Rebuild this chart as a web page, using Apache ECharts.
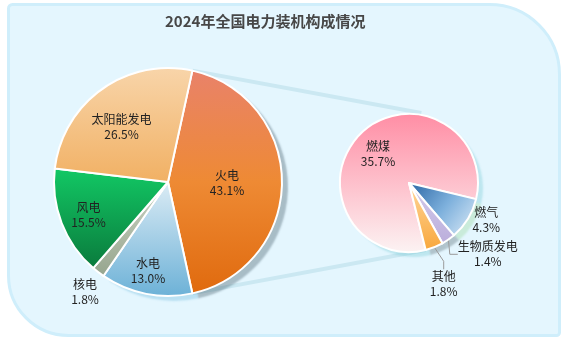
<!DOCTYPE html>
<html>
<head>
<meta charset="utf-8">
<script src="https://cdn.jsdelivr.net/npm/echarts@6/dist/echarts.min.js"></script>
<style>
html,body{margin:0;padding:0;background:#fff;}
#chart{width:569px;height:346px;}
</style>
</head>
<body>
<div id="chart"></div>
<script>
// ---- data ----
const TITLE = '2024年全国电力装机构成情况';
const LEFT_NAMES = ['火电', '水电', '核电', '风电', '太阳能发电'];
const LEFT_VALUES = [43.1, 13.0, 1.8, 15.5, 26.5];
const RIGHT_NAMES = ['燃煤', '燃气', '生物质发电', '其他'];
const RIGHT_VALUES = [35.7, 4.3, 1.4, 1.8];

// ---- styles / layout ----
const FONT = '"Noto Sans CJK SC", "Liberation Sans", sans-serif';
const LEFT_CENTER = [168, 182], LEFT_R = 114;
const RIGHT_CENTER = [409, 183], RIGHT_R = 69;
const RIGHT_START = 284;

const LEFT_COLORS = [
  [[0, '#e9826a'], [0.5, '#ee8a34'], [1, '#e06a0e']],
  [[0, '#dcecf5'], [1, '#6cb1d7']],
  [[0, '#cbd4c4'], [1, '#96a58e']],
  [[0, '#12c965'], [1, '#0a7a3c']],
  [[0, '#f8d5aa'], [1, '#f1b063']]
];
const LEFT_SHADOWS = ['rgba(30,55,70,0.30)', 'rgba(90,175,215,0.30)', 'rgba(0,0,0,0)', 'rgba(0,0,0,0)', 'rgba(0,0,0,0)'];
const LEFT_LABEL_OFFSETS = [[59, 1], [-20, 88.5], [-83, 110], [-79.5, 33], [-46.5, -55.5]];
const LEFT_LABEL_POS = ['inside', 'inside', 'outside', 'inside', 'inside'];

const RIGHT_COLORS = [
  {dir: [0, 0, 0, 1], stops: [[0, '#ff8da4'], [1, '#fcf3f3']]},
  {dir: [0, 0, 1, 1], stops: [[0, '#2a64a3'], [0.5, '#7db0dc'], [1, '#e2eef9']]},
  {dir: [0, 0, 0, 1], stops: [[0, '#d3cbec'], [1, '#bbaedb']]},
  {dir: [0, 0, 0, 1], stops: [[0, '#ffd79c'], [1, '#f8a73c']]}
];
const RIGHT_SHADOWS = ['rgba(100,195,205,0.30)', 'rgba(160,220,165,0.40)', 'rgba(80,100,110,0.35)', 'rgba(80,100,110,0.35)'];
const RIGHT_LABEL_OFFSETS = [[-31, -28.7], [77.3, 37], [78.8, 71.3], [34.7, 101.3]];
const RIGHT_LABEL_POS = ['inside', 'outside', 'outside', 'outside'];
const RIGHT_LABEL_LINE = [false, false, true, true];

function grad(stops, dir) {
  dir = dir || [0, 0, 0, 1];
  return {type: 'linear', x: dir[0], y: dir[1], x2: dir[2], y2: dir[3],
    colorStops: stops.map(s => ({offset: s[0], color: s[1]}))};
}
const fmt = p => p.name + '\n' + p.value.toFixed(1) + '%';

const leftSum = LEFT_VALUES.reduce((a, b) => a + b, 0);
const LEFT_START = LEFT_VALUES[0] / leftSum * 360 / 2;

const labelStyle = {color: '#222', fontSize: 12, lineHeight: 15, fontFamily: FONT, formatter: fmt};

// main (visible) slices
const leftData = LEFT_NAMES.map((n, i) => ({
  name: n, value: LEFT_VALUES[i],
  itemStyle: {color: grad(LEFT_COLORS[i])},
  label: {position: LEFT_LABEL_POS[i]},
  labelLine: {show: false}
}));
const rightData = RIGHT_NAMES.map((n, i) => ({
  name: n, value: RIGHT_VALUES[i],
  itemStyle: {color: grad(RIGHT_COLORS[i].stops, RIGHT_COLORS[i].dir)},
  label: {position: RIGHT_LABEL_POS[i]},
  labelLine: {show: RIGHT_LABEL_LINE[i]}
}));
// shadow layers (same slices, drawn underneath)
const leftShadowData = LEFT_NAMES.map((n, i) => ({
  name: n, value: LEFT_VALUES[i],
  itemStyle: {color: '#e4f6fe', shadowColor: LEFT_SHADOWS[i], shadowBlur: 2, shadowOffsetX: 6, shadowOffsetY: 5}
}));
const rightShadowData = RIGHT_NAMES.map((n, i) => ({
  name: n, value: RIGHT_VALUES[i],
  itemStyle: {color: '#e4f6fe', shadowColor: RIGHT_SHADOWS[i], shadowBlur: 2, shadowOffsetX: 5, shadowOffsetY: 5}
}));

function polar(c, r, deg) {
  const a = deg * Math.PI / 180;
  return [c[0] + r * Math.cos(a), c[1] - r * Math.sin(a)];
}
const lTop = polar(LEFT_CENTER, LEFT_R, LEFT_START);
const lBot = polar(LEFT_CENTER, LEFT_R, -LEFT_START);
const rTop = polar(RIGHT_CENTER, RIGHT_R + 2, 360 - RIGHT_START + 4);
const rBot = polar(RIGHT_CENTER, RIGHT_R, RIGHT_START);

const shadowSeries = (center, r, start, data) => ({
  type: 'pie', center: center, radius: r, startAngle: start, clockwise: true,
  silent: true, z: 1, label: {show: false}, labelLine: {show: false},
  emphasis: {disabled: true}, tooltip: {show: false}, data: data
});

const chart = echarts.init(document.getElementById('chart'), null, {renderer: 'canvas'});
chart.setOption({
  animation: false,
  backgroundColor: '#fff',
  title: {
    text: TITLE, left: 160, top: 9,
    textStyle: {fontSize: 15, fontWeight: 'bold', color: '#474747', fontFamily: FONT}
  },
  graphic: [
    {type: 'rect', z: -10, silent: true,
      shape: {x: 8.5, y: 4.5, width: 551, height: 331, r: [4, 70, 3, 60]},
      style: {fill: '#e4f6fe', stroke: '#cfeefb', lineWidth: 3}},
    {type: 'line', z: -5, silent: true,
      shape: {x1: lTop[0], y1: lTop[1], x2: rTop[0], y2: rTop[1]},
      style: {stroke: '#cbe8f2', lineWidth: 4}},
    {type: 'line', z: -5, silent: true,
      shape: {x1: lBot[0], y1: lBot[1], x2: rBot[0], y2: rBot[1]},
      style: {stroke: '#cbe8f2', lineWidth: 4}}
  ],
  series: [
    shadowSeries(LEFT_CENTER, LEFT_R, LEFT_START, leftShadowData),
    shadowSeries(RIGHT_CENTER, RIGHT_R, RIGHT_START, rightShadowData),
    {
      type: 'pie', center: LEFT_CENTER, radius: LEFT_R, z: 2,
      startAngle: LEFT_START, clockwise: true, avoidLabelOverlap: false,
      itemStyle: {borderColor: '#fff', borderWidth: 2},
      label: labelStyle,
      labelLayout: p => {
        const o = LEFT_LABEL_OFFSETS[p.dataIndex];
        return {x: LEFT_CENTER[0] + o[0], y: LEFT_CENTER[1] + o[1], align: 'center', verticalAlign: 'middle'};
      },
      emphasis: {disabled: true},
      data: leftData
    },
    {
      type: 'pie', center: RIGHT_CENTER, radius: RIGHT_R, z: 2,
      startAngle: RIGHT_START, clockwise: true, avoidLabelOverlap: false,
      itemStyle: {borderColor: '#fff', borderWidth: 2},
      label: labelStyle,
      labelLine: {length: 8, length2: 8, lineStyle: {color: '#9a9a9a', width: 1}},
      labelLayout: p => {
        const o = RIGHT_LABEL_OFFSETS[p.dataIndex];
        return {x: RIGHT_CENTER[0] + o[0], y: RIGHT_CENTER[1] + o[1], align: 'center', verticalAlign: 'middle'};
      },
      emphasis: {disabled: true},
      data: rightData
    }
  ]
});
</script>
</body>
</html>
